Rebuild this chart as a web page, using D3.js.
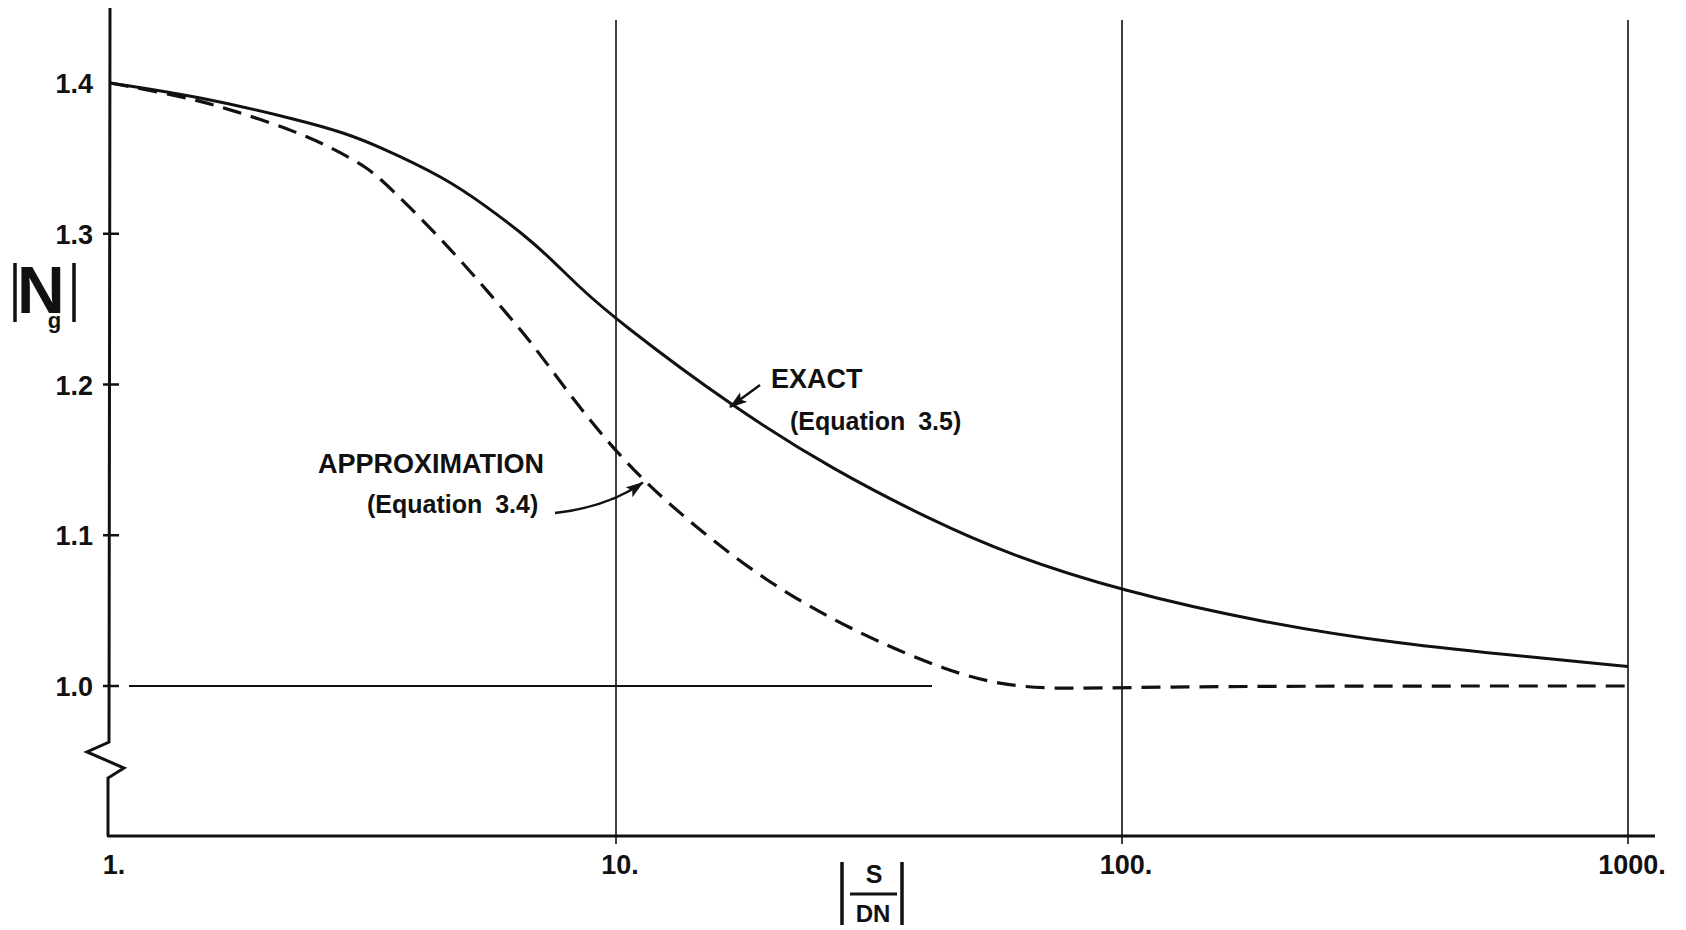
<!DOCTYPE html>
<html>
<head>
<meta charset="utf-8">
<script src="https://cdn.jsdelivr.net/npm/d3@7"></script>
<style>
  body { margin: 0; background: #fff; }
  text { font-family: "Liberation Sans", Arial, sans-serif; font-weight: bold; fill: #111; }
</style>
</head>
<body>
<div id="chart"></div>
<script>
// values
const exactS = [1, 1.5, 2.4, 2.9, 3.4, 4.6, 5.5, 6.6, 7.4, 8.5, 10, 17, 27, 42, 60, 100, 190, 350, 650, 1000];
const exactN = [1.4, 1.391, 1.375, 1.367, 1.358, 1.337, 1.319, 1.299, 1.284, 1.264, 1.243, 1.185, 1.143, 1.11, 1.087, 1.063, 1.042, 1.028, 1.019, 1.013];

const approxS = [1, 1.4, 1.75, 2.37, 2.8, 3.22, 3.52, 4.63, 5.63, 6.76, 8.1, 10, 12.6, 19.8, 31.3, 45.7, 57.4, 72, 100, 200, 1000];
const approxN = [1.4, 1.391, 1.382, 1.367, 1.3555, 1.344, 1.333, 1.293, 1.26, 1.2295, 1.193, 1.155, 1.121, 1.068, 1.032, 1.0095, 1.001, 0.998, 0.999, 1.0, 1.0];

const xTicks = [1, 10, 100, 1000];
const xTickLabels = ["1.", "10.", "100.", "1000."];
const yTicks = [1.0, 1.1, 1.2, 1.3, 1.4];
const yTickLabels = ["1.0", "1.1", "1.2", "1.3", "1.4"];

const width = 1686, height = 930;
const svg = d3.select("#chart").append("svg")
  .attr("width", width)
  .attr("height", height);

const x = d3.scaleLog().domain([1, 1000]).range([110, 1628]);
const y = d3.scaleLinear().domain([1.0, 1.4]).range([686, 83]);
const axisY = 836;

// arrow marker
svg.append("defs").append("marker")
  .attr("id", "arrow")
  .attr("markerUnits", "userSpaceOnUse")
  .attr("markerWidth", 20).attr("markerHeight", 14)
  .attr("refX", 17).attr("refY", 6)
  .attr("orient", "auto")
  .append("path")
  .attr("d", "M0,0 L18,6 L0,12 L4,6 z")
  .attr("fill", "#111");

// vertical grid lines
svg.selectAll(".vgrid")
  .data(xTicks.slice(1))
  .join("line")
  .attr("x1", d => x(d)).attr("x2", d => x(d))
  .attr("y1", 20).attr("y2", axisY + 8)
  .attr("stroke", "#111").attr("stroke-width", 1.6);

// reference line at 1.0
svg.append("line")
  .attr("x1", 129).attr("x2", 932)
  .attr("y1", y(1.0)).attr("y2", y(1.0))
  .attr("stroke", "#111").attr("stroke-width", 1.8);

// y axis with break
const yAxisPath = d3.path();
yAxisPath.moveTo(110, 8);
yAxisPath.lineTo(109, 742);
yAxisPath.lineTo(87, 752);
yAxisPath.lineTo(124, 768);
yAxisPath.lineTo(108, 778);
yAxisPath.lineTo(108, axisY);
svg.append("path")
  .attr("d", yAxisPath.toString())
  .attr("fill", "none")
  .attr("stroke", "#111").attr("stroke-width", 3)
  .attr("stroke-linejoin", "miter");

// x axis
svg.append("line")
  .attr("x1", 107).attr("x2", 1655)
  .attr("y1", axisY).attr("y2", axisY)
  .attr("stroke", "#111").attr("stroke-width", 3.2);

// y ticks
svg.selectAll(".ytick")
  .data(yTicks.filter(d => d < 1.4))
  .join("line")
  .attr("x1", 103).attr("x2", 119)
  .attr("y1", d => y(d)).attr("y2", d => y(d))
  .attr("stroke", "#111").attr("stroke-width", 2.5);

svg.selectAll(".ylab")
  .data(yTicks)
  .join("text")
  .attr("x", 93)
  .attr("y", d => y(d) + 10)
  .attr("text-anchor", "end")
  .attr("font-size", 27)
  .text((d, i) => yTickLabels[i]);

svg.selectAll(".xlab")
  .data(xTicks)
  .join("text")
  .attr("x", d => x(d) + 4)
  .attr("y", 874)
  .attr("text-anchor", "middle")
  .attr("font-size", 27)
  .text((d, i) => xTickLabels[i]);

// curves
const line = d3.line()
  .x(d => x(d[0]))
  .y(d => y(d[1]))
  .curve(d3.curveBasis);

svg.append("path")
  .attr("d", line(d3.zip(approxS, approxN)))
  .attr("fill", "none")
  .attr("stroke", "#111").attr("stroke-width", 3.2)
  .attr("stroke-dasharray", "19,10");

svg.append("path")
  .attr("d", line(d3.zip(exactS, exactN)))
  .attr("fill", "none")
  .attr("stroke", "#111").attr("stroke-width", 3);

// y title |Ng|
const yTitle = svg.append("g");
yTitle.append("line").attr("x1", 15).attr("x2", 15).attr("y1", 263).attr("y2", 322)
  .attr("stroke", "#111").attr("stroke-width", 3.5);
yTitle.append("line").attr("x1", 74).attr("x2", 74).attr("y1", 263).attr("y2", 322)
  .attr("stroke", "#111").attr("stroke-width", 3.5);
const nText = yTitle.append("text").attr("x", 17).attr("y", 313).attr("font-size", 66);
nText.append("tspan").text("N");
nText.append("tspan").attr("dx", -17).attr("dy", 15).attr("font-size", 22).text("g");

// x title |S/DN|
const xTitle = svg.append("g");
xTitle.append("line").attr("x1", 842).attr("x2", 842).attr("y1", 862).attr("y2", 925)
  .attr("stroke", "#111").attr("stroke-width", 3.5);
xTitle.append("line").attr("x1", 902).attr("x2", 902).attr("y1", 862).attr("y2", 925)
  .attr("stroke", "#111").attr("stroke-width", 3.5);
xTitle.append("text").attr("x", 874).attr("y", 883).attr("text-anchor", "middle")
  .attr("font-size", 25).text("S");
xTitle.append("line").attr("x1", 850).attr("x2", 897).attr("y1", 894).attr("y2", 894)
  .attr("stroke", "#111").attr("stroke-width", 3);
xTitle.append("text").attr("x", 873).attr("y", 922).attr("text-anchor", "middle")
  .attr("font-size", 24).text("DN");

// annotations
const exactTip = [x(16.8), y(1.185)];
svg.append("line")
  .attr("x1", exactTip[0] + 30).attr("y1", exactTip[1] - 22)
  .attr("x2", exactTip[0]).attr("y2", exactTip[1])
  .attr("stroke", "#111").attr("stroke-width", 2.5)
  .attr("marker-end", "url(#arrow)");
svg.append("text").attr("x", 771).attr("y", 388).attr("font-size", 27).text("EXACT");
svg.append("text").attr("x", 790).attr("y", 430).attr("font-size", 25)
  .attr("word-spacing", 6).text("(Equation 3.5)");

const approxTip = [x(11.3), y(1.135)];
const ap = d3.path();
ap.moveTo(555, 513);
ap.quadraticCurveTo(608, 507, approxTip[0], approxTip[1]);
svg.append("path")
  .attr("d", ap.toString())
  .attr("fill", "none")
  .attr("stroke", "#111").attr("stroke-width", 2.5)
  .attr("marker-end", "url(#arrow)");
svg.append("text").attr("x", 318).attr("y", 473).attr("font-size", 27).text("APPROXIMATION");
svg.append("text").attr("x", 367).attr("y", 513).attr("font-size", 25)
  .attr("word-spacing", 6).text("(Equation 3.4)");
</script>
</body>
</html>
